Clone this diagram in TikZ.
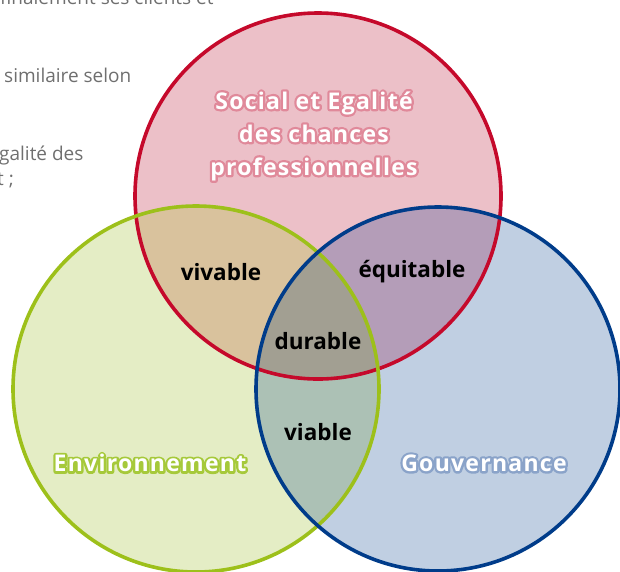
\documentclass[tikz,border=0pt]{standalone}
\usepackage{fontspec}
\setmainfont{Open Sans}
\definecolor{redS}{HTML}{C5092B}
\definecolor{greenS}{HTML}{9DC01A}
\definecolor{blueS}{HTML}{003C8A}
\definecolor{redF}{HTML}{ECC0C8}
\definecolor{greenF}{HTML}{E4EDC5}
\definecolor{blueF}{HTML}{C0CFE2}
\definecolor{vivF}{HTML}{D9C29D}
\definecolor{equF}{HTML}{B49DB8}
\definecolor{viaF}{HTML}{ACC1B5}
\definecolor{durF}{HTML}{A29F92}
\definecolor{redO}{HTML}{E0899A}
\definecolor{greenO}{HTML}{A6C93A}
\definecolor{blueO}{HTML}{8AA3C9}
\definecolor{bgT}{HTML}{6F6F6F}
% outlined text: stroked copy underneath, filled copy on top
\newcommand\olt[3]{\rlap{\special{pdf:literal direct 1 Tr 4.6 w 1 j}\textcolor{#1}{#3}\special{pdf:literal direct 0 Tr 1 w 0 j}}\textcolor{#2}{#3}}
\begin{document}
\begin{tikzpicture}[x=1pt,y=-1pt,
  ring/.style={circle,draw=#1,line width=3.6pt,inner sep=0pt},
  bgtext/.style={text=bgT,font=\fontsize{19}{22}\selectfont,inner sep=0pt,anchor=base west},
  small/.style={font=\bfseries\fontsize{22.5}{26}\selectfont,text=black,inner sep=0pt},
  big/.style={font=\bfseries\fontsize{23}{33}\selectfont\addfontfeature{LetterSpace=5.5},inner sep=0pt,align=center}]
\useasboundingbox (0,0) rectangle (620,571);
\clip (0,0) rectangle (620,571);
% background text
\node[bgtext] (t1) at (0,4) {finalement ses clients et};
\node[bgtext] (t2) at (4,82) {similaire selon};
\node[bgtext] (t3) at (-1,160) {galité des};
\node[bgtext] (t4) at (-3,185) {t ;};
% circle centres
\coordinate (cS) at (318,196);
\coordinate (cE) at (196,389);
\coordinate (cG) at (438,389);
% fills
\fill[redF] (cS) circle[radius=183pt];
\fill[greenF] (cE) circle[radius=183pt];
\fill[blueF] (cG) circle[radius=182pt];
\begin{scope}
  \clip (cE) circle[radius=183pt];
  \fill[viaF] (cG) circle[radius=182pt];
\end{scope}
\begin{scope}
  \clip (cS) circle[radius=183pt];
  \fill[vivF] (cE) circle[radius=183pt];
  \fill[equF] (cG) circle[radius=182pt];
  \clip (cE) circle[radius=183pt];
  \fill[durF] (cG) circle[radius=182pt];
\end{scope}
% outlines
\node[ring=redS,minimum size=366pt] (soc) at (cS) {};
\node[ring=greenS,minimum size=366pt] (env) at (cE) {};
\node[ring=blueS,minimum size=364pt] (gov) at (cG) {};
% labels
\node[big] (lS) at (314,136) {\olt{redO}{white}{Social et Egalité}\\\olt{redO}{white}{des chances}\\\olt{redO}{white}{professionnelles}};
\node[big] (lE) at (150,463) {\olt{greenO}{white}{Environnement}};
\node[big] (lG) at (484,463) {\olt{blueO}{white}{Gouvernance}};
\node[small] (viv) at (221,272) {vivable};
\node[small] (equ) at (412,272) {équitable};
\node[small] (dur) at (318,341) {durable};
\node[small] (via) at (318,432) {viable};
\end{tikzpicture}
\end{document}
